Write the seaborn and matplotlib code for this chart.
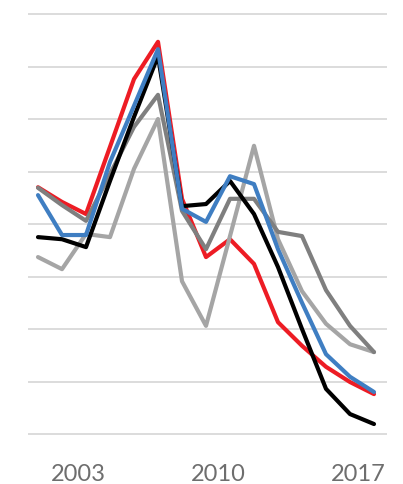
import matplotlib
matplotlib.use("Agg")
import matplotlib.pyplot as plt
import seaborn as sns
import pandas as pd

# Time positions of the observations (decimal years)
periods = [2001.0, 2002.2, 2003.4, 2004.6, 2005.8, 2007.0, 2008.2, 2009.4,
           2010.6, 2011.8, 2013.0, 2014.2, 2015.4, 2016.6, 2017.8]

red_vals = [4.70, 4.42, 4.19, 5.47, 6.76, 7.47, 4.48, 3.37,
            3.71, 3.24, 2.13, 1.68, 1.28, 0.99, 0.76]
light_gray_vals = [3.37, 3.14, 3.81, 3.75, 5.05, 6.00, 2.91, 2.06,
                   3.77, 5.49, 3.71, 2.72, 2.10, 1.71, 1.56]
dark_gray_vals = [4.69, 4.36, 4.06, 4.95, 5.85, 6.46, 4.25, 3.52,
                  4.48, 4.48, 3.85, 3.77, 2.74, 2.06, 1.56]
black_vals = [3.75, 3.71, 3.56, 4.82, 6.04, 7.20, 4.34, 4.38,
              4.82, 4.19, 3.18, 2.00, 0.86, 0.38, 0.19]
blue_vals = [4.55, 3.79, 3.79, 5.18, 6.25, 7.33, 4.29, 4.04,
             4.91, 4.76, 3.52, 2.50, 1.52, 1.09, 0.80]

tick_years = [2003, 2010, 2017]
tick_labels = ["2003", "2010", "2017"]

# drawing order: first listed sits at the bottom
series = [
    ("red", red_vals, "#ED1C24"),
    ("light_gray", light_gray_vals, "#A5A5A5"),
    ("dark_gray", dark_gray_vals, "#7F7F7F"),
    ("black", black_vals, "#000000"),
    ("blue", blue_vals, "#3F7EC2"),
]

frames = []
for name, vals, _ in series:
    frames.append(pd.DataFrame({"period": periods, "value": vals, "series": name}))
df = pd.concat(frames, ignore_index=True)

sns.set_theme(style="white")
plt.rcParams["font.family"] = ["Lato", "DejaVu Sans"]

W, H = 403, 485
fig = plt.figure(figsize=(W / 100, H / 100), dpi=100)
px_per_unit = 52.5
ymin, ymax = -0.05, 8.05
ax_h = (ymax - ymin) * px_per_unit
ax_bottom = (H - 435 - (0 - ymin) * px_per_unit) / H
ax = fig.add_axes([28 / W, ax_bottom, (387 - 28) / W, ax_h / H])

for i, (name, vals, color) in enumerate(series):
    sub = df[df["series"] == name]
    sns.lineplot(data=sub, x="period", y="value", ax=ax, color=color,
                 linewidth=3.0, zorder=3 + i, legend=False)

for lvl in range(0, 9):
    ax.axhline(lvl, color="#D9D9D9", linewidth=1.3, zorder=1)

ax.set_xlim(2000.5, 2018.45)
ax.set_ylim(ymin, ymax)
ax.set_xticks(tick_years)
ax.set_xticklabels(tick_labels)
ax.set_yticks([])
ax.tick_params(axis="x", length=0, pad=19, labelsize=17, labelcolor="#6E6E6E")
ax.set_xlabel("")
ax.set_ylabel("")
for sp in ax.spines.values():
    sp.set_visible(False)

fig.savefig("out.png", dpi=100, facecolor="white")
